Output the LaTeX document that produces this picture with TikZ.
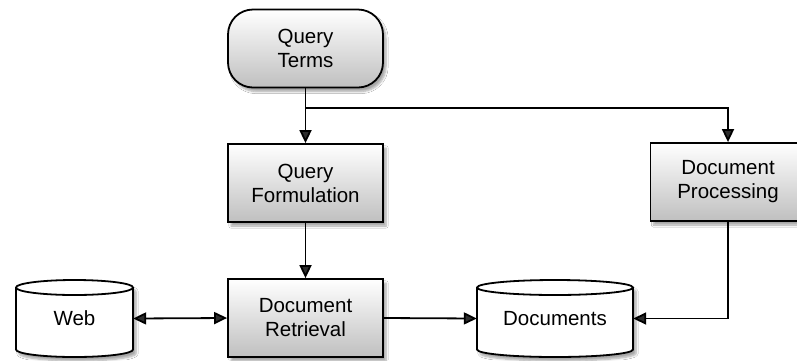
\documentclass[tikz,border=0pt]{standalone}
\usepackage{fontspec}
\setmainfont{Liberation Sans}
\usetikzlibrary{arrows.meta,shadows,shadows.blur}
\begin{document}
\begin{tikzpicture}[x=1pt,y=-1pt,
  font=\fontsize{20.5}{24}\selectfont,
  proc/.style={draw=black,line width=1.8pt,top color=white,bottom color=black!25,
     minimum width=155pt,minimum height=78pt,align=center,inner sep=0pt,
     blur shadow={shadow xshift=3pt,shadow yshift=-4pt,shadow blur steps=6,shadow opacity=35}},
  term/.style={proc,rounded corners=25pt},
  store/.style={draw=none,minimum height=77pt,align=center,inner sep=0pt},
  cyl/.style={draw=black,line width=1.8pt,fill=white,
     blur shadow={shadow xshift=3pt,shadow yshift=-4pt,shadow blur steps=6,shadow opacity=35}},
  conn/.style={line width=1.8pt,-{Triangle[length=13pt,width=12pt]}},
  dconn/.style={line width=1.8pt,{Triangle[length=13pt,width=12pt]}-{Triangle[length=13pt,width=12pt]}}
]
\useasboundingbox (0,0) rectangle (797,360);
\fill[white] (0,0) rectangle (797,360);

% cylinders (drawn first)
\path[cyl] (16,287.5) -- (16,349.5) arc[start angle=180,end angle=360,x radius=58.5pt,y radius=7.5pt]
  -- (133,287.5) arc[start angle=0,end angle=180,x radius=58.5pt,y radius=7.5pt] -- cycle;
\draw[line width=1.8pt] (16,287.5) arc[start angle=180,end angle=360,x radius=58.5pt,y radius=7.5pt];
\path[cyl] (477,287.5) -- (477,349.5) arc[start angle=180,end angle=360,x radius=78pt,y radius=7.5pt]
  -- (633,287.5) arc[start angle=0,end angle=180,x radius=78pt,y radius=7.5pt] -- cycle;
\draw[line width=1.8pt] (477,287.5) arc[start angle=180,end angle=360,x radius=78pt,y radius=7.5pt];

\node[store,minimum width=117pt] (web) at (74.5,318.5) {Web};
\node[store,minimum width=156pt] (docs) at (555,318.5) {Documents};

\node[term] (qt) at (305.5,48.5) {Query\\Terms};
\node[proc] (qf) at (305.5,183) {Query\\Formulation};
\node[proc] (dp) at (728,182) {Document\\Processing};
\node[proc] (dr) at (305.5,318) {Document\\Retrieval};

\coordinate (branch) at (305.5,108);
\draw[line width=1.8pt] (qt.south) -- (branch);
\draw[conn] (branch) -- (qf.north);
\draw[conn] (branch) -| (dp.north);
\draw[conn] (qf.south) -- (dr.north);
\draw[dconn] (web.east) -- (dr.west);
\draw[conn] (dr.east) -- (docs.west);
\draw[conn] (dp.south) |- (docs.east);
\end{tikzpicture}
\end{document}
